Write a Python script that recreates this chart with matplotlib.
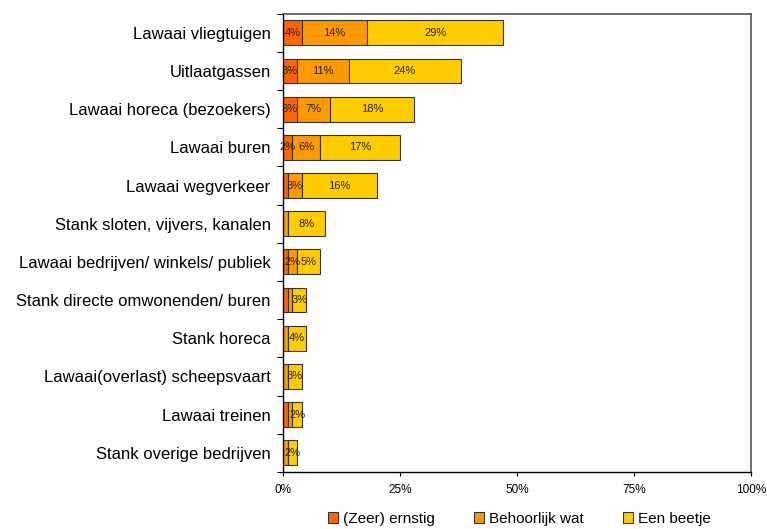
import matplotlib
matplotlib.use("Agg")
import matplotlib.pyplot as plt
import numpy as np
from matplotlib.patches import Patch

plt.rcParams['font.family'] = ['Liberation Sans', 'DejaVu Sans']

categories = [
    "Lawaai vliegtuigen",
    "Uitlaatgassen",
    "Lawaai horeca (bezoekers)",
    "Lawaai buren",
    "Lawaai wegverkeer",
    "Stank sloten, vijvers, kanalen",
    "Lawaai bedrijven/ winkels/ publiek",
    "Stank directe omwonenden/ buren",
    "Stank horeca",
    "Lawaai(overlast) scheepsvaart",
    "Lawaai treinen",
    "Stank overige bedrijven",
]
zeer_ernstig = [4, 3, 3, 2, 1, 0, 1, 1, 0, 0, 1, 0]
behoorlijk_wat = [14, 11, 7, 6, 3, 1, 2, 1, 1, 1, 1, 1]
een_beetje = [29, 24, 18, 17, 16, 8, 5, 3, 4, 3, 2, 2]
series_names = ["(Zeer) ernstig", "Behoorlijk wat", "Een beetje"]
colors = ["#FF6600", "#FF9900", "#FFCC00"]
xticks = [0, 25, 50, 75, 100]

fig = plt.figure(figsize=(7.67, 5.29), dpi=100)
ax = fig.add_axes([0.369, 0.108, 0.61, 0.866])

y = np.arange(len(categories))
left = np.zeros(len(categories))
for vals, name, col in zip([zeer_ernstig, behoorlijk_wat, een_beetje], series_names, colors):
    vals = np.array(vals, dtype=float)
    ax.barh(y, vals, left=left, height=0.65, color=col, edgecolor="#333333", linewidth=0.8, label=name)
    for yi, (l, v) in enumerate(zip(left, vals)):
        if v >= 2:
            ax.text(l + v / 2, yi, f"{int(v)}%", ha="center", va="center", fontsize=8, color="#222222")
    left += vals

ax.set_ylim(len(categories) - 0.5, -0.5)
ax.set_xlim(0, 100)
ax.set_yticks(y)
ax.set_yticklabels(categories, fontsize=12)
ax.set_yticks(np.arange(-0.5, len(categories), 1), minor=True)
ax.tick_params(axis="y", which="major", length=0, pad=9)
ax.tick_params(axis="y", which="minor", length=4, width=0.8)
ax.set_xticks(xticks)
ax.set_xticklabels([f"{t}%" for t in xticks], fontsize=8.5)
ax.tick_params(axis="x", length=3, width=0.8, pad=6)
for s in ["top", "right"]:
    ax.spines[s].set_color("#555555")
    ax.spines[s].set_linewidth(1.2)
for s in ["left", "bottom"]:
    ax.spines[s].set_color("black")
    ax.spines[s].set_linewidth(1.0)

handles = [Patch(facecolor=c, edgecolor="#333333", linewidth=0.8) for c in colors]
fig.legend(handles, series_names, loc="center", bbox_to_anchor=(0.677, 0.019), ncol=3,
           frameon=False, fontsize=11, handlelength=0.7, handleheight=0.7,
           handletextpad=0.3, columnspacing=2.55)

fig.savefig("out.png", dpi=100)
